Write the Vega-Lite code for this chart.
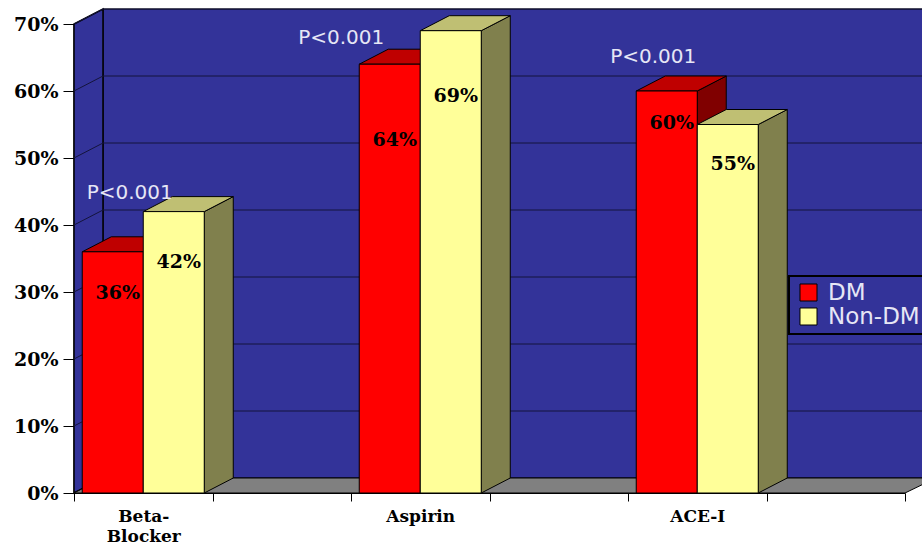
{
  "$schema": "https://vega.github.io/schema/vega-lite/v6.json",
  "autosize": "none",
  "width": 831,
  "height": 469,
  "padding": {"left": 74, "top": 24, "right": 17, "bottom": 52},
  "background": "white",
  "view": {"stroke": null},
  "config": {"font": "DejaVu Serif", "legend": {"strokeWidth": 2}},
  "datasets": {
    "rates": [
      {"category": "Beta-Blocker", "group": "DM", "value": 36, "label": "36%"},
      {"category": "Beta-Blocker", "group": "Non-DM", "value": 42, "label": "42%"},
      {"category": "Aspirin", "group": "DM", "value": 64, "label": "64%"},
      {"category": "Aspirin", "group": "Non-DM", "value": 69, "label": "69%"},
      {"category": "ACE-I", "group": "DM", "value": 60, "label": "60%"},
      {"category": "ACE-I", "group": "Non-DM", "value": 55, "label": "55%"}
    ],
    "pvalues": [
      {"category": "Beta-Blocker", "p": "P<0.001", "highest": 42},
      {"category": "Aspirin", "p": "P<0.001", "highest": 69},
      {"category": "ACE-I", "p": "P<0.001", "highest": 60}
    ],
    "ticks": [{"pct": 0}, {"pct": 10}, {"pct": 20}, {"pct": 30}, {"pct": 40}, {"pct": 50}, {"pct": 60}, {"pct": 70}]
  },
  "encoding": {
    "x": {
      "field": "category",
      "type": "nominal",
      "scale": {"domain": ["Beta-Blocker", " ", "Aspirin", "  ", "ACE-I", "   "], "paddingInner": 0, "paddingOuter": 0},
      "axis": {
        "title": null,
        "labelAngle": 0,
        "labelFont": "DejaVu Serif",
        "labelFontWeight": "bold",
        "labelFontSize": 17,
        "labelColor": "black",
        "labelLineHeight": 20,
        "labelPadding": 7,
        "labelLimit": 0,
        "labelOverlap": false,
        "labelExpr": "datum.value == 'Beta-Blocker' ? ['Beta-', 'Blocker'] : (datum.value ? trim(datum.value) : '')",
        "tickBand": "extent",
        "tickSize": 8,
        "tickColor": "black",
        "domainColor": "black",
        "grid": false
      }
    }
  },
  "layer": [
    {
      "description": "Back wall of the box",
      "data": {"values": [{"pct": 0}]},
      "mark": {"type": "point", "filled": true, "opacity": 1, "size": 4, "fill": "#333399", "stroke": "black", "strokeWidth": 1, "shape": "M29,-15H862V-484H29Z"},
      "encoding": {
        "x": {"datum": "Beta-Blocker", "bandPosition": 0, "type": "nominal"},
        "y": {"field": "pct", "type": "quantitative", "scale": {"domain": [0, 70], "nice": false},
          "axis": {
            "title": null,
            "values": [0, 10, 20, 30, 40, 50, 60, 70],
            "labelExpr": "datum.value + '%'",
            "labelFont": "DejaVu Serif",
            "labelFontWeight": "bold",
            "labelFontSize": 19,
            "labelColor": "black",
            "labelPadding": 5,
            "tickSize": 11,
            "tickColor": "black",
            "domainColor": "black",
            "domainWidth": 2,
            "grid": false
          }
        }
      }
    },
    {
      "description": "Left wall",
      "data": {"values": [{"pct": 0}]},
      "mark": {"type": "point", "filled": true, "opacity": 1, "size": 4, "fill": "#333399", "stroke": "black", "strokeWidth": 1.5, "shape": "M0,0L29,-15V-484L0,-469Z"},
      "encoding": {
        "x": {"datum": "Beta-Blocker", "bandPosition": 0, "type": "nominal"},
        "y": {"field": "pct", "type": "quantitative"}
      }
    },
    {
      "description": "Floor",
      "data": {"values": [{"pct": 0}]},
      "mark": {"type": "point", "filled": true, "opacity": 1, "size": 4, "fill": "#808080", "stroke": "black", "strokeWidth": 1, "shape": "M0,0L29,-15H862L831,0Z"},
      "encoding": {
        "x": {"datum": "Beta-Blocker", "bandPosition": 0, "type": "nominal"},
        "y": {"field": "pct", "type": "quantitative"}
      }
    },
    {
      "description": "Grid lines running along both walls",
      "data": {"name": "ticks"},
      "transform": [{"filter": "datum.pct > 0"}],
      "mark": {"type": "point", "filled": false, "opacity": 1, "size": 4, "stroke": "#14143c", "strokeWidth": 1, "shape": "M0,0L29,-15H862"},
      "encoding": {
        "x": {"datum": "Beta-Blocker", "bandPosition": 0, "type": "nominal"},
        "y": {"field": "pct", "type": "quantitative"}
      }
    },
    {
      "description": "DM bar: side face",
      "data": {"name": "rates"},
      "transform": [{"filter": "datum.group == 'DM'"}],
      "mark": {"type": "point", "filled": true, "opacity": 1, "size": 4, "fill": "#800000", "stroke": "black", "strokeWidth": 1,
        "shape": {"expr": "'M30.5,0L59.5,-15V' + (-15 - datum.value * 6.7) + 'L30.5,' + (-datum.value * 6.7) + 'Z'"}},
      "encoding": {
        "x": {"field": "category", "type": "nominal"},
        "xOffset": {"field": "group", "type": "nominal", "scale": {"domain": ["DM", "Non-DM"], "paddingInner": 0, "paddingOuter": 0.135}},
        "y": {"datum": 0, "type": "quantitative"}
      }
    },
    {
      "description": "DM bar: top face",
      "data": {"name": "rates"},
      "transform": [{"filter": "datum.group == 'DM'"}],
      "mark": {"type": "point", "filled": true, "opacity": 1, "size": 4, "fill": "#bf0000", "stroke": "black", "strokeWidth": 1, "shape": "M-30.5,0L-1.5,-15H59.5L30.5,0Z"},
      "encoding": {
        "xOffset": {"field": "group", "type": "nominal"},
        "y": {"field": "value", "type": "quantitative"}
      }
    },
    {
      "description": "DM bar: front face",
      "data": {"name": "rates"},
      "transform": [{"filter": "datum.group == 'DM'"}],
      "mark": {"type": "bar", "stroke": "black", "strokeWidth": 1},
      "encoding": {
        "xOffset": {"field": "group", "type": "nominal"},
        "y": {"field": "value", "type": "quantitative"},
        "fill": {
          "field": "group",
          "type": "nominal",
          "scale": {"domain": ["DM", "Non-DM"], "range": ["#ff0000", "#ffff99"]},
          "legend": {
            "orient": "none",
            "legendX": 715,
            "legendY": 252,
            "title": null,
            "fillColor": "#333399",
            "strokeColor": "black",
            "padding": 5,
            "symbolType": "square",
            "symbolSize": 290,
            "symbolOffset": 3,
            "symbolStrokeColor": "black",
            "symbolStrokeWidth": 1,
            "labelFont": "DejaVu Sans",
            "labelFontSize": 23,
            "labelColor": "#e6e6f5",
            "labelOffset": 8,
            "labelLimit": 200,
            "rowPadding": 0,
            "offset": 0
          }
        }
      }
    },
    {
      "description": "Non-DM bar: side face",
      "data": {"name": "rates"},
      "transform": [{"filter": "datum.group == 'Non-DM'"}],
      "mark": {"type": "point", "filled": true, "opacity": 1, "size": 4, "fill": "#80804d", "stroke": "black", "strokeWidth": 1,
        "shape": {"expr": "'M30.5,0L59.5,-15V' + (-15 - datum.value * 6.7) + 'L30.5,' + (-datum.value * 6.7) + 'Z'"}},
      "encoding": {
        "xOffset": {"field": "group", "type": "nominal"},
        "y": {"datum": 0, "type": "quantitative"}
      }
    },
    {
      "description": "Non-DM bar: top face",
      "data": {"name": "rates"},
      "transform": [{"filter": "datum.group == 'Non-DM'"}],
      "mark": {"type": "point", "filled": true, "opacity": 1, "size": 4, "fill": "#bfbf73", "stroke": "black", "strokeWidth": 1, "shape": "M-30.5,0L-1.5,-15H59.5L30.5,0Z"},
      "encoding": {
        "xOffset": {"field": "group", "type": "nominal"},
        "y": {"field": "value", "type": "quantitative"}
      }
    },
    {
      "description": "Non-DM bar: front face",
      "data": {"name": "rates"},
      "transform": [{"filter": "datum.group == 'Non-DM'"}],
      "mark": {"type": "bar", "stroke": "black", "strokeWidth": 1},
      "encoding": {
        "xOffset": {"field": "group", "type": "nominal"},
        "y": {"field": "value", "type": "quantitative"},
        "fill": {"field": "group", "type": "nominal"}
      }
    },
    {
      "description": "Percentage printed on each bar",
      "data": {"name": "rates"},
      "mark": {
        "type": "text",
        "font": "DejaVu Serif",
        "fontWeight": "bold",
        "fontSize": 19,
        "color": "black",
        "baseline": "middle",
        "dx": 5,
        "dy": {"expr": "{'36': 41, '42': 50, '64': 76, '69': 65, '60': 32, '55': 39}[datum.value]"}
      },
      "encoding": {
        "xOffset": {"field": "group", "type": "nominal"},
        "y": {"field": "value", "type": "quantitative"},
        "text": {"field": "label", "type": "nominal"}
      }
    },
    {
      "description": "Significance note for each drug class",
      "data": {"name": "pvalues"},
      "mark": {
        "type": "text",
        "font": "DejaVu Sans",
        "fontSize": 20,
        "color": "#e6e6f5",
        "baseline": "middle",
        "dx": {"expr": "{'Beta-Blocker': -13.5, 'Aspirin': -79, 'ACE-I': -44}[datum.category]"},
        "dy": {"expr": "{'Beta-Blocker': -19, 'Aspirin': 7, 'ACE-I': -34}[datum.category]"}
      },
      "encoding": {
        "y": {"field": "highest", "type": "quantitative"},
        "text": {"field": "p", "type": "nominal"}
      }
    }
  ]
}
